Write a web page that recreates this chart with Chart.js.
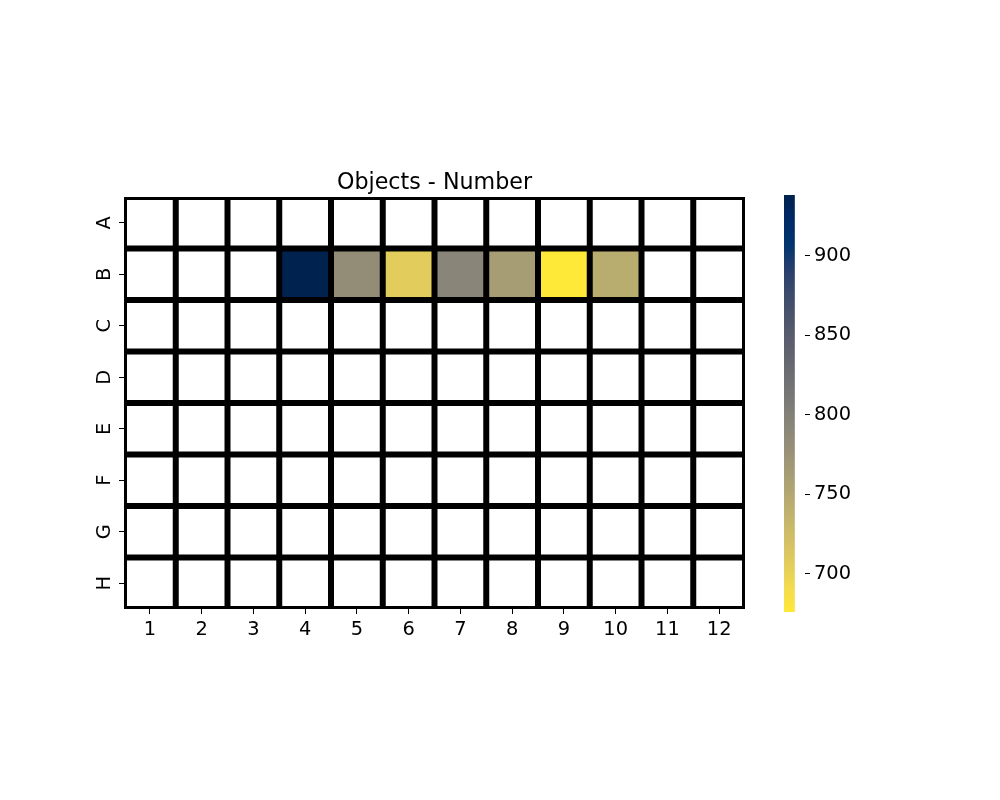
<!DOCTYPE html>
<html>
<head>
<meta charset="utf-8">
<script src="https://cdn.jsdelivr.net/npm/chart.js@4/dist/chart.umd.min.js"></script>
<style>
  html, body { margin: 0; padding: 0; background: #ffffff; }
  #wrap { position: relative; width: 1000px; height: 800px; }
  .layer { position: absolute; left: 0; top: 0; width: 1000px; height: 800px; }
</style>
</head>
<body>
<div id="wrap">
  <div class="layer"><canvas id="heat" width="1000" height="800"></canvas></div>
  <div class="layer"><canvas id="cbar" width="1000" height="800"></canvas></div>
</div>
<script>
// ---- data ----
const title = 'Objects - Number';
const rowLabels = ['A', 'B', 'C', 'D', 'E', 'F', 'G', 'H'];
const colLabels = ['1', '2', '3', '4', '5', '6', '7', '8', '9', '10', '11', '12'];
const rowBValues = [null, null, null, 938, 783, 707, 793, 763, 676, 744, null, null];
const colorbarTicks = [700, 750, 800, 850, 900];

// every row except B is empty (NaN)
const matrix = rowLabels.map(r => r === 'B' ? rowBValues : colLabels.map(() => null));

// ---- colormap (cividis, reversed in use) ----
const cividisStops = [
  [0.0, [0, 34, 78]], [0.058824, [0, 42, 102]], [0.117647, [0, 52, 110]],
  [0.176471, [39, 63, 108]], [0.235294, [60, 74, 107]], [0.294118, [76, 85, 107]],
  [0.352941, [91, 95, 109]], [0.411765, [104, 106, 112]], [0.470588, [117, 117, 117]],
  [0.529412, [131, 129, 120]], [0.588235, [146, 140, 120]], [0.647059, [161, 152, 118]],
  [0.705882, [176, 165, 114]], [0.764706, [192, 177, 109]], [0.823529, [209, 191, 102]],
  [0.882353, [225, 204, 92]], [0.941176, [243, 219, 79]], [1.0, [254, 232, 56]]
];
function cividis(s) {
  s = Math.max(0, Math.min(1, s));
  for (let i = 1; i < cividisStops.length; i++) {
    const [s1, c1] = cividisStops[i];
    const [s0, c0] = cividisStops[i - 1];
    if (s <= s1) {
      const f = (s - s0) / (s1 - s0);
      const c = c0.map((v, k) => Math.round(v + (c1[k] - v) * f));
      return `rgb(${c[0]},${c[1]},${c[2]})`;
    }
  }
  return 'rgb(254,232,56)';
}
const present = rowBValues.filter(v => v !== null);
const vmin = Math.min(...present);
const vmax = Math.max(...present);
function colorFor(v) {
  if (v === null || v === undefined) return '#ffffff';
  return cividis(1 - (v - vmin) / (vmax - vmin));   // reversed: low = yellow
}

const FONT = "'DejaVu Sans', sans-serif";
Chart.defaults.font.family = FONT;
Chart.defaults.color = '#000000';

// ---- heatmap ----
const datasets = rowLabels.map((r, ri) => ({
  label: r,
  data: colLabels.map(() => [ri, ri + 1]),
  backgroundColor: matrix[ri].map(colorFor),
  borderColor: '#000000',
  borderWidth: 3.5,
  inflateAmount: 0.5,
  borderSkipped: false,
  barPercentage: 1,
  categoryPercentage: 1
}));

new Chart(document.getElementById('heat'), {
  type: 'bar',
  data: { labels: colLabels, datasets },
  options: {
    responsive: false,
    animation: false,
    events: [],
    layout: { padding: { left: 0, right: 255, top: 170, bottom: 0 } },
    plugins: {
      legend: { display: false },
      tooltip: { enabled: false },
      title: {
        display: true,
        text: title,
        fullSize: false,
        color: '#000000',
        font: { family: FONT, size: 22.2, weight: 'normal', lineHeight: 1.2 },
        padding: { top: 0, bottom: 0.4 }
      }
    },
    scales: {
      x: {
        type: 'category',
        stacked: true,
        offset: true,
        afterFit: (s) => { s.height = 191; },
        grid: { display: true, drawOnChartArea: false, offset: false, tickLength: 5, color: '#000000', lineWidth: 1 },
        border: { display: false },
        ticks: { font: { family: FONT, size: 19.4 }, color: '#000000', padding: 4, maxRotation: 0, minRotation: 0, autoSkip: false }
      },
      y: {
        type: 'linear',
        stacked: false,
        reverse: true,
        min: 0,
        max: rowLabels.length,
        afterFit: (s) => { s.width = 124; },
        afterBuildTicks: (s) => { s.ticks = rowLabels.map((_, i) => ({ value: i + 0.5 })); },
        grid: { display: true, drawOnChartArea: false, tickLength: 5, color: '#000000', lineWidth: 1 },
        border: { display: false },
        ticks: {
          font: { family: FONT, size: 19.4 }, color: '#000000',
          padding: 7, minRotation: 90, maxRotation: 90, crossAlign: 'center', autoSkip: false,
          callback: (v, i) => rowLabels[i]
        }
      }
    }
  }
});

// ---- colorbar ----
new Chart(document.getElementById('cbar'), {
  type: 'bar',
  data: {
    labels: [''],
    datasets: [{
      data: [[vmin, vmax]],
      borderWidth: 0,
      barPercentage: 1,
      categoryPercentage: 1,
      backgroundColor: (ctx) => {
        const chart = ctx.chart;
        const area = chart.chartArea;
        if (!area) return '#888888';
        const y = chart.scales.y;
        const y0 = y.getPixelForValue(vmin);
        const y1 = y.getPixelForValue(vmax);
        const g = chart.ctx.createLinearGradient(0, y0, 0, y1);
        for (let i = 0; i <= 64; i++) {
          const f = i / 64;
          g.addColorStop(f, cividis(1 - f));
        }
        return g;
      }
    }]
  },
  options: {
    responsive: false,
    animation: false,
    events: [],
    layout: { padding: { left: 784, right: 95, top: 195, bottom: 188 } },
    plugins: { legend: { display: false }, tooltip: { enabled: false }, title: { display: false } },
    scales: {
      x: { display: false, offset: false },
      y: {
        type: 'linear',
        position: 'right',
        min: vmin,
        max: vmax,
        afterFit: (s) => { s.width = 100; },
        afterBuildTicks: (s) => { s.ticks = colorbarTicks.map(v => ({ value: v })); },
        grid: { display: true, drawOnChartArea: false, tickLength: 5, color: '#000000', lineWidth: 1 },
        border: { display: false },
        ticks: { font: { family: FONT, size: 19.4 }, color: '#000000', padding: 4, callback: (v) => String(v) }
      }
    }
  }
});
</script>
</body>
</html>
